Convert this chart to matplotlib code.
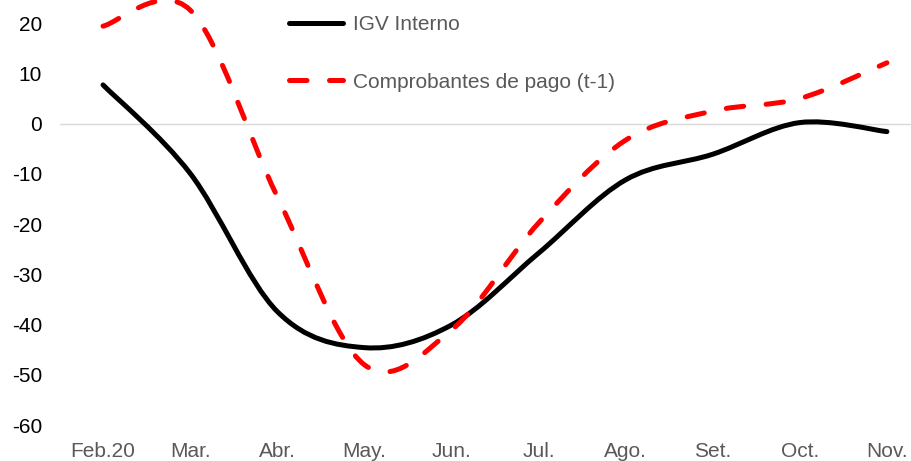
import matplotlib
matplotlib.use('Agg')
import matplotlib.pyplot as plt
from matplotlib.path import Path
from matplotlib.patches import PathPatch
from matplotlib.lines import Line2D

months = ['Feb.20', 'Mar.', 'Abr.', 'May.', 'Jun.', 'Jul.', 'Ago.', 'Set.', 'Oct.', 'Nov.']
igv = [7.7, -9.9, -37.4, -44.6, -40.1, -25.8, -11.2, -6.1, 0.2, -1.6]
comp = [19.4, 22.6, -14.5, -48.0, -41.1, -19.8, -3.3, 2.5, 5.0, 12.1]

plt.rcParams['font.family'] = ['Liberation Sans', 'DejaVu Sans']
plt.rcParams['axes.unicode_minus'] = False


def smooth_path(ys):
    # Excel-like smoothed line: cubic bezier through each point (Catmull-Rom)
    xs = list(range(len(ys)))
    pts = list(zip(xs, ys))
    verts = [pts[0]]
    codes = [Path.MOVETO]
    n = len(pts)
    for i in range(n - 1):
        p0 = pts[max(i - 1, 0)]
        p1 = pts[i]
        p2 = pts[i + 1]
        p3 = pts[min(i + 2, n - 1)]
        c1 = (p1[0] + (p2[0] - p0[0]) / 6, p1[1] + (p2[1] - p0[1]) / 6)
        c2 = (p2[0] - (p3[0] - p1[0]) / 6, p2[1] - (p3[1] - p1[1]) / 6)
        verts += [c1, c2, p2]
        codes += [Path.CURVE4] * 3
    return Path(verts, codes)


fig = plt.figure(figsize=(9.12, 4.61), dpi=100)
ax = fig.add_axes([60 / 912, 36 / 461, 852 / 912, 425 / 461])

ax.axhline(0, color='#d9d9d9', lw=1, zorder=1)

black = PathPatch(smooth_path(igv), fill=False, edgecolor='black', lw=3.6,
                  capstyle='round', joinstyle='round', zorder=3)
red = PathPatch(smooth_path(comp), fill=False, edgecolor='#ff0000', lw=3.6,
                linestyle=(0, (3.5, 4.5)), capstyle='round', joinstyle='round', zorder=4)
ax.add_patch(black)
ax.add_patch(red)

ax.set_xlim(-0.494, 9.288)
ax.set_ylim(-60, 24.6)
ax.set_yticks(range(-60, 21, 10))
ax.set_xticks(range(len(months)))
ax.set_xticklabels(months)
ax.tick_params(axis='both', length=0, labelsize=15)
ax.tick_params(axis='x', colors='#595959', pad=12)
ax.tick_params(axis='y', colors='black', pad=13)
for s in ax.spines.values():
    s.set_visible(False)

handles = [
    Line2D([], [], color='black', lw=3.6, solid_capstyle='round'),
    Line2D([], [], color='#ff0000', lw=3.6, linestyle=(0, (3.5, 4.5)), dash_capstyle='round'),
]
leg = ax.legend(handles, ['IGV Interno', 'Comprobantes de pago (t-1)'],
                loc='upper left', bbox_to_anchor=(289 / 912, 1 - 15 / 461),
                bbox_transform=fig.transFigure, frameon=False, fontsize=15,
                handlelength=2.6, handletextpad=0.45, labelspacing=1.85,
                borderpad=0, borderaxespad=0)
for t in leg.get_texts():
    t.set_color('#595959')

fig.savefig('out.png', dpi=100)
